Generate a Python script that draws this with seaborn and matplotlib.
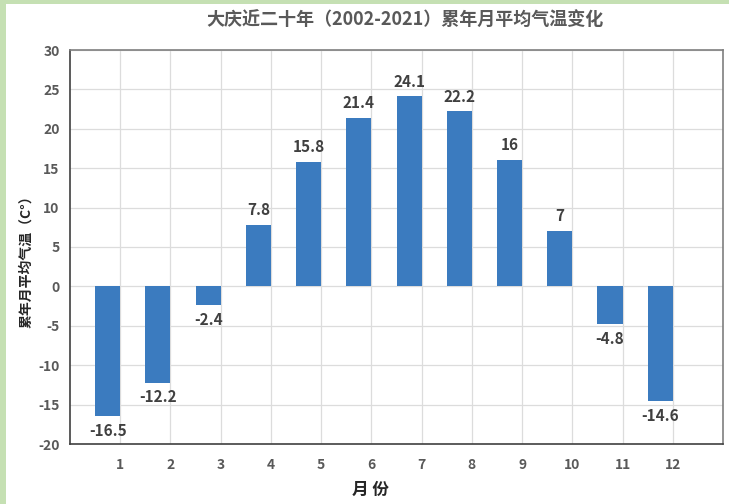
import numpy as np
import pandas as pd
import matplotlib
matplotlib.use("Agg")
import matplotlib.pyplot as plt
import seaborn as sns
from matplotlib.patches import Rectangle

months = [1, 2, 3, 4, 5, 6, 7, 8, 9, 10, 11, 12]
temps = [-16.5, -12.2, -2.4, 7.8, 15.8, 21.4, 24.1, 22.2, 16, 7, -4.8, -14.6]
labels = ["-16.5", "-12.2", "-2.4", "7.8", "15.8", "21.4", "24.1", "22.2", "16", "7", "-4.8", "-14.6"]
title = "大庆近二十年（2002-2021）累年月平均气温变化"
ylabel = "累年月平均气温（C°）"
xlabel = "月 份"

sns.set_theme(style="white")
plt.rcParams['font.family'] = ['Noto Sans CJK SC', 'DejaVu Sans']
plt.rcParams['axes.unicode_minus'] = False

fig = plt.figure(figsize=(7.29, 5.04), dpi=100)
fig.patch.set_facecolor("white")
# light green frame on top and left
fig.patches.append(Rectangle((0, 0), 6 / 729, 1, transform=fig.transFigure,
                             facecolor="#c5e0b3", edgecolor="none", zorder=0))
fig.patches.append(Rectangle((0, 1 - 4 / 504), 1, 4 / 504, transform=fig.transFigure,
                             facecolor="#c5e0b3", edgecolor="none", zorder=0))

ax = fig.add_axes([70 / 729, 1 - 444 / 504, 653 / 729, 394 / 504])

df = pd.DataFrame({"pos": np.array(months) - 0.25, "temp": temps})
sns.barplot(data=df, x="pos", y="temp", native_scale=True, width=0.5,
            color="#3b7bbf", saturation=1, ax=ax, zorder=3, edgecolor="none")

ax.set_xlim(0, 13)
ax.set_ylim(-20, 30)
ax.set_xticks(months)
ax.set_xticklabels([str(m) for m in months])
ax.set_yticks(range(-20, 31, 5))
ax.grid(True, color="#dcdcdc", linewidth=0.9, zorder=0)
ax.set_axisbelow(True)

for s in ["left", "bottom"]:
    ax.spines[s].set_color("#404040")
    ax.spines[s].set_linewidth(1.2)
for s in ["top", "right"]:
    ax.spines[s].set_color("#7f7f7f")
    ax.spines[s].set_linewidth(1.2)

ax.tick_params(axis="both", which="major", direction="out", length=4, width=1,
               color="#404040", labelcolor="#595959", labelsize=10)
ax.tick_params(axis="x", pad=6)
for t in ax.get_xticklabels() + ax.get_yticklabels():
    t.set_fontweight("bold")

for p, v, lab in zip(df["pos"], temps, labels):
    if v >= 0:
        ax.annotate(lab, (p, v), xytext=(0, 5), textcoords="offset points",
                    ha="center", va="bottom", fontsize=11, fontweight="bold", color="#404040")
    else:
        ax.annotate(lab, (p, v), xytext=(0, -5), textcoords="offset points",
                    ha="center", va="top", fontsize=11, fontweight="bold", color="#404040")

ax.set_xlabel("")
ax.set_ylabel("")
fig.text(370 / 729, 1 - 490 / 504, xlabel, ha="center", va="center",
         fontsize=12, fontweight="bold", color="#262626")
fig.text(26 / 729, 1 - 258 / 504, ylabel, ha="center", va="center", rotation=90,
         fontsize=10, fontweight="bold", color="#262626")
fig.text(405 / 729, 1 - 20 / 504, title, ha="center", va="center",
         fontsize=13, color="#595959", fontweight="bold")

fig.savefig("out.png", dpi=100)
